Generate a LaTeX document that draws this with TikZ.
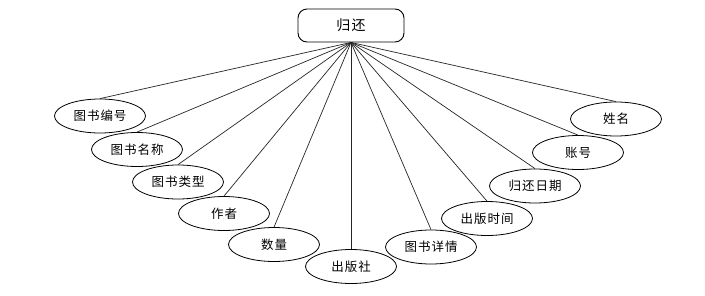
\documentclass[tikz,border=0pt]{standalone}
\usepackage{fontspec}
\newfontfamily\cjk[LetterSpace=8]{Noto Sans CJK SC}
\usetikzlibrary{shapes.geometric}

\tikzset{attr/.style={draw,ellipse,line width=0.8pt,minimum width=91pt,minimum height=34pt,inner sep=0pt,font=\cjk\fontsize{12.5}{14}\selectfont},
  ent/.style={draw,rounded corners=9pt,line width=0.9pt,minimum width=106pt,minimum height=33pt,font=\cjk\fontsize{14}{16}\selectfont},
  lnk/.style={line width=0.7pt,draw=black!85}}

\begin{document}
\begin{tikzpicture}[x=1pt,y=-1pt]
\useasboundingbox[fill=white] (0,0) rectangle (705,295);
\node[ent] (r) at (351,25.5) {归还};
\node[attr] (a1) at (100,116) {图书编号};
\node[attr] (a2) at (137,149.5) {图书名称};
\node[attr] (a3) at (178,182) {图书类型};
\node[attr] (a4) at (224,213.5) {作者};
\node[attr] (a5) at (274,244.5) {数量};
\node[attr] (a6) at (351,266.5) {出版社};
\node[attr] (a7) at (431,247) {图书详情};
\node[attr] (a8) at (487,218.5) {出版时间};
\node[attr] (a9) at (535,186) {归还日期};
\node[attr] (a10) at (578,152.5) {账号};
\node[attr] (a11) at (616,119) {姓名};
\foreach \i in {1,...,11}
  \draw[lnk] (r.south) -- (a\i.north);
\end{tikzpicture}
\end{document}
